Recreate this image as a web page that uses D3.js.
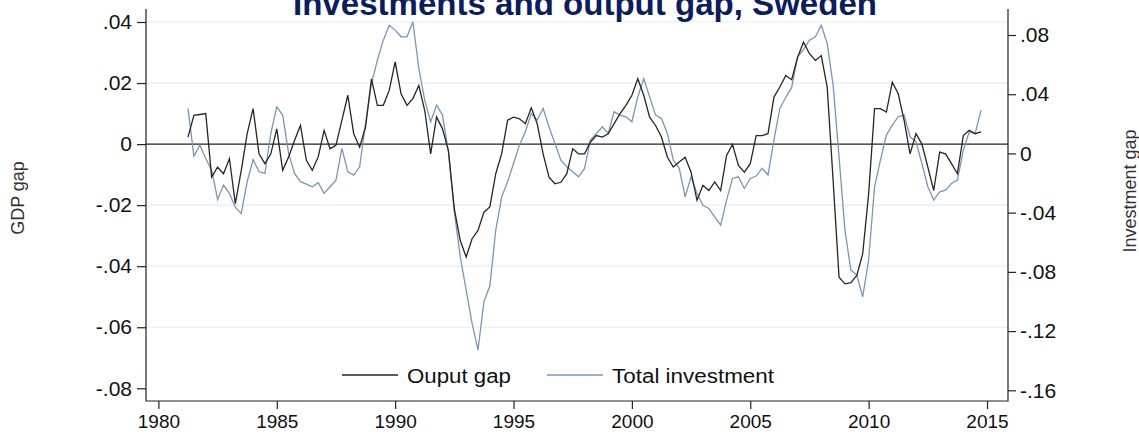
<!DOCTYPE html>
<html>
<head>
<meta charset="utf-8">
<script src="https://cdn.jsdelivr.net/npm/d3@7"></script>
<style>
    body { margin: 0; background: #fff; }
    svg { display: block; }
    text { font-family: Arial, "Liberation Sans", sans-serif; }
</style>
</head>
<body>
<svg id="chart" width="1139" height="437"></svg>
<script>
// quarterly series, first observation 1981q2
const startYear = 1981;
const startQuarter = 2;

const outputGap = [
    0.0023, 0.0094, 0.0097, 0.0100, -0.0108, -0.0075, -0.0097, -0.0048, -0.0195, -0.0086,
    0.0034, 0.0116, -0.0032, -0.0064, -0.0032, 0.0050, -0.0086, -0.0042, 0.0012, 0.0061,
    -0.0053, -0.0086, -0.0042, 0.0045, -0.0015, -0.0004, 0.0078, 0.0160, 0.0034, -0.0010,
    0.0056, 0.0214, 0.0127, 0.0127, 0.0176, 0.0269, 0.0165, 0.0127, 0.0149, 0.0192,
    0.0110, -0.0032, 0.0089, 0.0050, -0.0021, -0.0212, -0.0316, -0.0370, -0.0310, -0.0283,
    -0.0223, -0.0206, -0.0097, -0.0031, 0.0078, 0.0088, 0.0083, 0.0067, 0.0119, 0.0067,
    -0.0032, -0.0108, -0.0130, -0.0125, -0.0097, -0.0015, -0.0032, -0.0032, 0.0007, 0.0028,
    0.0023, 0.0034, 0.0067, 0.0100, 0.0127, 0.0160, 0.0214, 0.0160, 0.0088, 0.0061,
    0.0023, -0.0043, -0.0075, -0.0059, -0.0043, -0.0092, -0.0184, -0.0135, -0.0152, -0.0124,
    -0.0152, -0.0037, -0.0001, -0.0070, -0.0092, -0.0064, 0.0028, 0.0028, 0.0034, 0.0154,
    0.0187, 0.0225, 0.0211, 0.0285, 0.0334, 0.0296, 0.0274, 0.0290, 0.0187, -0.0119,
    -0.0436, -0.0458, -0.0454, -0.0430, -0.0359, -0.0163, 0.0116, 0.0116, 0.0105, 0.0203,
    0.0165, 0.0078, -0.0032, 0.0034, 0.0000, -0.0075, -0.0152, -0.0026, -0.0032, -0.0064,
    -0.0097, 0.0028, 0.0045, 0.0034, 0.0040
];

const totalInvestment = [
    0.0304, -0.0018, 0.0056, -0.0034, -0.0113, -0.0311, -0.0214, -0.0270, -0.0365, -0.0405,
    -0.0191, -0.0041, -0.0124, -0.0135, 0.0135, 0.0315, 0.0259, 0.0000, -0.0135, -0.0191,
    -0.0207, -0.0225, -0.0198, -0.0270, -0.0225, -0.0180, 0.0034, -0.0124, -0.0146, -0.0090,
    0.0202, 0.0472, 0.0630, 0.0765, 0.0866, 0.0833, 0.0788, 0.0788, 0.0889, 0.0574,
    0.0360, 0.0214, 0.0326, 0.0259, 0.0010, -0.0394, -0.0698, -0.0923, -0.1148, -0.1328,
    -0.1002, -0.0896, -0.0518, -0.0293, -0.0192, -0.0068, 0.0056, 0.0146, 0.0270, 0.0225,
    0.0304, 0.0180, 0.0067, -0.0045, -0.0090, -0.0124, -0.0158, -0.0101, 0.0090, 0.0135,
    0.0180, 0.0135, 0.0281, 0.0259, 0.0247, 0.0214, 0.0383, 0.0506, 0.0383, 0.0259,
    0.0236, 0.0135, -0.0045, -0.0101, -0.0293, -0.0158, -0.0270, -0.0350, -0.0372, -0.0428,
    -0.0484, -0.0315, -0.0169, -0.0158, -0.0237, -0.0169, -0.0153, -0.0101, -0.0146, 0.0090,
    0.0304, 0.0378, 0.0446, 0.0652, 0.0702, 0.0765, 0.0788, 0.0866, 0.0743, 0.0461,
    -0.0023, -0.0518, -0.0788, -0.0822, -0.0968, -0.0720, -0.0225, -0.0045, 0.0124, 0.0191,
    0.0248, 0.0259, 0.0112, 0.0079, -0.0068, -0.0225, -0.0315, -0.0259, -0.0248, -0.0203,
    -0.0180, 0.0022, 0.0146, 0.0135, 0.0292
];

const yearTicks = [1980, 1985, 1990, 1995, 2000, 2005, 2010, 2015];
const gapTicks = [-0.08, -0.06, -0.04, -0.02, 0, 0.02, 0.04];
const investTicks = [-0.16, -0.12, -0.08, -0.04, 0, 0.04, 0.08];
const gridTicks = [-0.06, -0.04, -0.02, 0.02, 0.04];
const seriesNames = ['Ouput gap', 'Total investment'];
const titleText = 'Investments and output gap, Sweden';

const frame = { left: 146, right: 1008, top: 9, bottom: 401 };
const colors = { gap: '#262626', invest: '#7b96b4', grid: '#e6eef2', title: '#0c1c5c' };

let x = d3.scaleLinear().domain([1980, 2015]).range([158.4, 987]);
let yGap = d3.scaleLinear().domain([-0.08, 0.04]).range([388.3, 22]);
let yInv = d3.scaleLinear().domain([-0.16, 0.08]).range([390.3, 35]);

function quarterTime(i) {
    return startYear + (startQuarter - 1) / 4 + i / 4;
}

// stata style labels: .04, -.02, 0 (plain hyphen)
function stataFmt(v) {
    if (Math.abs(v) < 1e-9) return '0';
    return (v < 0 ? '-' : '') + Math.abs(v).toFixed(2).replace(/^0/, '');
}

let svg = d3.select('#chart');

// gridlines
svg.append('g')
    .selectAll('line')
    .data(gridTicks)
    .enter()
    .append('line')
    .attr('x1', frame.left)
    .attr('x2', frame.right)
    .attr('y1', d => yGap(d))
    .attr('y2', d => yGap(d))
    .attr('stroke', colors.grid)
    .attr('stroke-width', 1.2);

// zero line
svg.append('line')
    .attr('x1', frame.left)
    .attr('x2', frame.right)
    .attr('y1', yGap(0))
    .attr('y2', yGap(0))
    .attr('stroke', '#222')
    .attr('stroke-width', 1.3);

// series lines
let gapLine = d3.line()
    .x((d, i) => x(quarterTime(i)))
    .y(d => yGap(d));
let invLine = d3.line()
    .x((d, i) => x(quarterTime(i)))
    .y(d => yInv(d));

svg.append('path')
    .datum(totalInvestment)
    .attr('d', invLine)
    .attr('fill', 'none')
    .attr('stroke', colors.invest)
    .attr('stroke-width', 1.3);

svg.append('path')
    .datum(outputGap)
    .attr('d', gapLine)
    .attr('fill', 'none')
    .attr('stroke', colors.gap)
    .attr('stroke-width', 1.3);

// axes
let leftAxis = svg.append('g')
    .attr('transform', `translate(${frame.left},0)`)
    .call(d3.axisLeft(yGap).tickValues(gapTicks).tickSize(9).tickPadding(5).tickFormat(stataFmt));

let rightAxis = svg.append('g')
    .attr('transform', `translate(${frame.right},0)`)
    .call(d3.axisRight(yInv).tickValues(investTicks).tickSize(8).tickPadding(4).tickFormat(stataFmt));

let bottomAxis = svg.append('g')
    .attr('transform', `translate(0,${frame.bottom})`)
    .call(d3.axisBottom(x).tickValues(yearTicks).tickSize(8).tickPadding(6).tickFormat(d3.format('d')));

[leftAxis, rightAxis, bottomAxis].forEach(a => {
    a.select('.domain').remove();
    a.selectAll('line').attr('stroke', '#222').attr('stroke-width', 1.2);
    a.selectAll('text').attr('fill', '#111').attr('font-family', 'Arial, "Liberation Sans", sans-serif');
});
leftAxis.selectAll('text').attr('font-size', 21);
rightAxis.selectAll('text').attr('font-size', 21);
bottomAxis.selectAll('text').attr('font-size', 19);

// frame lines (left, right, bottom)
svg.append('path')
    .attr('d', `M${frame.left},${frame.top}V${frame.bottom}H${frame.right}V${frame.top}`)
    .attr('fill', 'none')
    .attr('stroke', '#222')
    .attr('stroke-width', 1.2);

// axis titles
svg.append('text')
    .attr('transform', 'translate(24,198) rotate(-90)')
    .attr('text-anchor', 'middle')
    .attr('font-size', 18)
    .attr('fill', '#333')
    .text('GDP gap');

svg.append('text')
    .attr('transform', 'translate(1136,191) rotate(-90)')
    .attr('text-anchor', 'middle')
    .attr('font-size', 18)
    .attr('fill', '#333')
    .text('Investment gap');

// title
svg.append('text')
    .attr('x', 585)
    .attr('y', 15)
    .attr('text-anchor', 'middle')
    .attr('font-family', '"Times New Roman", "Liberation Serif", serif')
    .attr('font-weight', 'bold')
    .attr('font-size', 33)
    .attr('textLength', 584)
    .attr('lengthAdjust', 'spacingAndGlyphs')
    .attr('fill', colors.title)
    .text(titleText);

// legend
let legendItems = [
    { name: seriesNames[0], color: colors.gap, x: 342, width: 104 },
    { name: seriesNames[1], color: colors.invest, x: 547, width: 162 },
];
let legend = svg.append('g');
legend.selectAll('line')
    .data(legendItems)
    .enter()
    .append('line')
    .attr('x1', d => d.x)
    .attr('x2', d => d.x + 56)
    .attr('y1', 375)
    .attr('y2', 375)
    .attr('stroke', d => d.color)
    .attr('stroke-width', 1.3);
legend.selectAll('text')
    .data(legendItems)
    .enter()
    .append('text')
    .attr('x', d => d.x + 65)
    .attr('y', 383)
    .attr('font-size', 20)
    .attr('fill', '#111')
    .attr('textLength', d => d.width)
    .attr('lengthAdjust', 'spacingAndGlyphs')
    .text(d => d.name);
</script>
</body>
</html>
